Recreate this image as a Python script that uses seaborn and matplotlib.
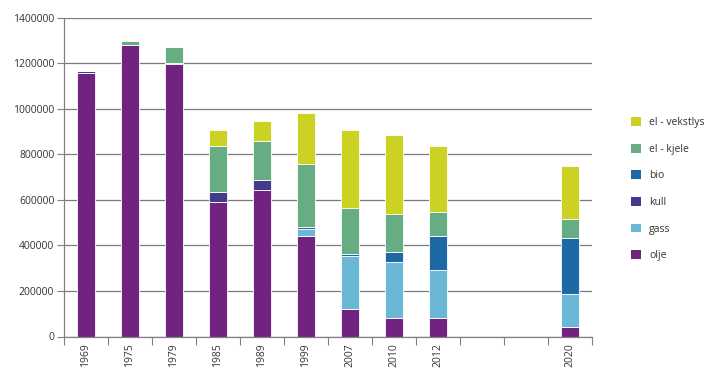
import matplotlib
matplotlib.use("Agg")
import matplotlib.pyplot as plt
import seaborn as sns
import numpy as np
import pandas as pd
from matplotlib.patches import Patch

categories = ["1969", "1975", "1979", "1985", "1989", "1999", "2007", "2010", "2012", "gap1", "gap2", "2020"]
tick_labels = ["1969", "1975", "1979", "1985", "1989", "1999", "2007", "2010", "2012", "", "", "2020"]

olje        = [1157000, 1279000, 1197000, 592000, 643000, 442000, 120000, 79000, 83000, 0, 0, 42000]
gass        = [0, 0, 0, 0, 0, 30000, 232000, 249000, 211000, 0, 0, 144000]
kull        = [8000, 0, 3000, 44000, 44000, 0, 0, 0, 0, 0, 0, 0]
bio         = [0, 0, 0, 0, 0, 9000, 11000, 44000, 148000, 0, 0, 247000]
el_kjele    = [0, 20000, 70000, 198000, 169000, 275000, 201000, 166000, 104000, 0, 0, 81000]
el_vekstlys = [0, 0, 0, 73000, 90000, 226000, 341000, 345000, 290000, 0, 0, 236000]

series_names = ["olje", "gass", "kull", "bio", "el - kjele", "el - vekstlys"]
series_vals = [olje, gass, kull, bio, el_kjele, el_vekstlys]
colors = ["#70237f", "#6bb8d6", "#423a8a", "#1d69a5", "#66ad84", "#cbd224"]

sns.set_theme(style="white")
plt.rcParams['font.family'] = ['Open Sans', 'DejaVu Sans']

fig = plt.figure(figsize=(7.19, 3.83), dpi=100)
ax = fig.add_axes([64/719, 1-336.5/383, (592-64)/719, (336.5-17.5)/383])

bottom = np.zeros(len(categories))
for name, vals, c in zip(series_names, series_vals, colors):
    df = pd.DataFrame({"cat": categories, "val": vals})
    sns.barplot(data=df, x="cat", y="val", order=categories, color=c,
                bottom=bottom, width=0.4, ax=ax, linewidth=0.6,
                edgecolor="#ffffff", saturation=1, errorbar=None)
    bottom = bottom + np.array(vals)

ax.set_xlim(-0.5, len(categories) - 0.5)
ax.set_ylim(0, 1400000)
ax.set_yticks(np.arange(0, 1400001, 200000))
ax.set_yticklabels([f"{int(v)}" for v in np.arange(0, 1400001, 200000)], fontsize=7.5, color="#333333")
ax.yaxis.grid(True, color="#7a7a7a", linewidth=0.9)
ax.set_axisbelow(True)

ax.set_xticks(range(len(categories)))
ax.set_xticklabels(tick_labels, rotation=90, fontsize=7.5, color="#333333")
ax.set_xticks(np.arange(-0.5, len(categories), 1), minor=True)
ax.tick_params(axis="x", which="major", length=0, pad=5)
ax.tick_params(axis="x", which="minor", length=6, width=0.8, color="#808080", direction="out", bottom=True)
ax.tick_params(axis="y", which="major", length=5, width=0.8, color="#808080", direction="out", left=True, pad=2)
ax.set_xlabel("")
ax.set_ylabel("")

for s in ["top", "right"]:
    ax.spines[s].set_visible(False)
for s in ["left", "bottom"]:
    ax.spines[s].set_color("#808080")
    ax.spines[s].set_linewidth(0.9)

handles = [Patch(facecolor=c, edgecolor="none", label=n) for n, c in zip(series_names, colors)][::-1]
leg = fig.legend(handles=handles, loc="upper left", bbox_to_anchor=(627/719, 1-113/383),
                 frameon=False, fontsize=7.5, handlelength=0.9, handleheight=0.9,
                 labelspacing=1.5, handletextpad=0.8, borderaxespad=0)
for t in leg.get_texts():
    t.set_color("#333333")

fig.savefig("out.png", dpi=100)
